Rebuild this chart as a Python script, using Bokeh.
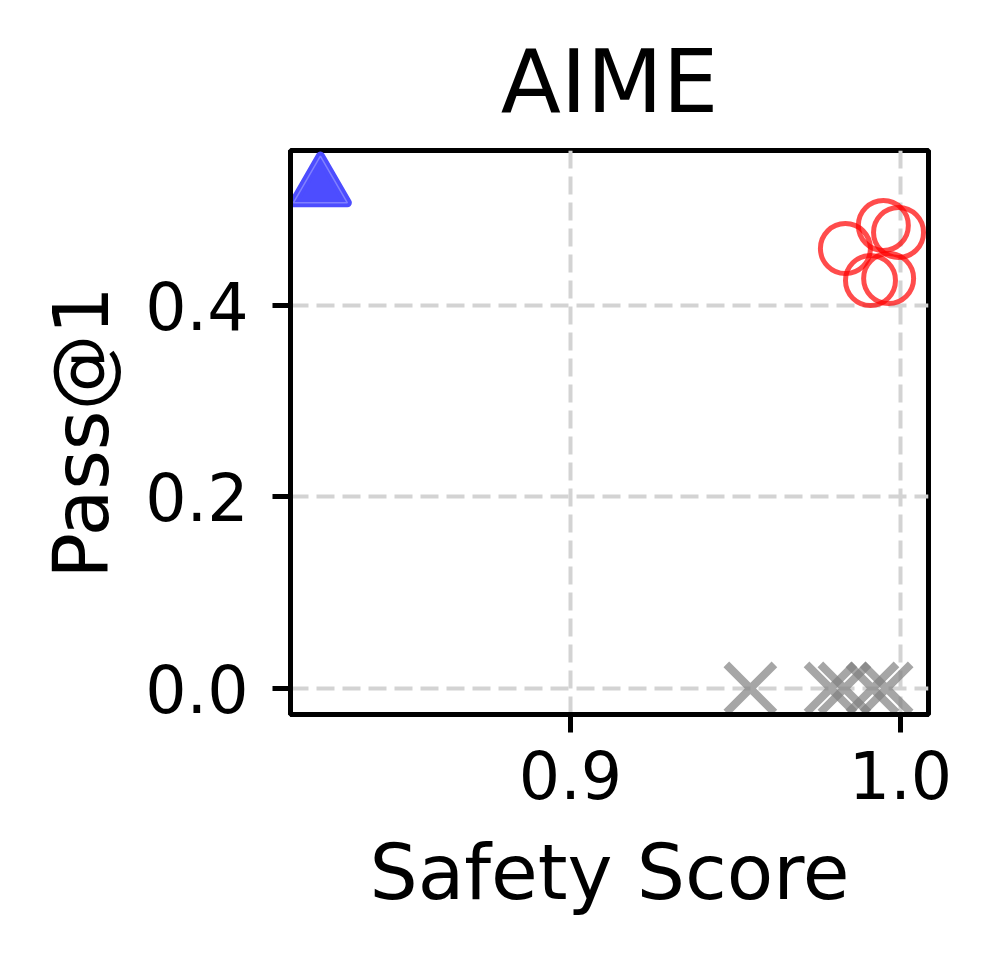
from bokeh.plotting import figure
from bokeh.models import Range1d, FixedTicker, ColumnDataSource
from bokeh.transform import dodge
from bokeh.embed import file_html
from bokeh.resources import INLINE

# Data
base_x = [0.8242]
base_y = [0.531]

method_x = [0.9833, 0.9948, 0.9994, 0.9909, 0.9964]
method_y = [0.4595, 0.4836, 0.4763, 0.4261, 0.4282]

other_x = [0.9545, 0.9788, 0.9830, 0.9915, 0.9958]
other_y = [0.0, 0.0, 0.0, 0.0, 0.0]

x_ticks = [0.9, 1.0]
y_ticks = [0.0, 0.2, 0.4]

title_text = "AIME"
x_label = "Safety Score"
y_label = "Pass@1"

FONT = "DejaVu Sans"

p = figure(width=975, height=945, output_backend="svg", toolbar_location=None,
           x_range=Range1d(0.81515, 1.00848), y_range=Range1d(-0.0272, 0.5619),
           min_border_left=290, min_border_right=47, min_border_top=150, min_border_bottom=231)

p.title.text = title_text
p.title.text_font = FONT
p.title.text_font_size = "88px"
p.title.text_font_style = "normal"
p.title.text_color = "black"
p.title.align = "center"
p.title.standoff = 36

p.outline_line_color = "black"
p.outline_line_width = 5
p.background_fill_color = "white"
p.border_fill_color = "white"

for ax, ticks in ((p.xaxis[0], x_ticks), (p.yaxis[0], y_ticks)):
    ax.ticker = FixedTicker(ticks=ticks)
    ax.major_label_overrides = {t: f"{t:.1f}" for t in ticks}
    ax.major_label_text_font = FONT
    ax.major_label_text_font_size = "65px"
    ax.major_label_text_color = "black"
    ax.axis_label_text_font = FONT
    ax.axis_label_text_font_size = "76px"
    ax.axis_label_text_font_style = "normal"
    ax.axis_label_text_color = "black"
    ax.axis_line_color = "black"
    ax.axis_line_width = 5
    ax.major_tick_line_width = 5
    ax.major_tick_line_color = "black"
    ax.major_tick_in = 0
    ax.major_tick_out = 18
    ax.minor_tick_line_color = None

p.xaxis.axis_label = x_label
p.yaxis.axis_label = y_label
p.xaxis.major_label_standoff = 17
p.yaxis.major_label_standoff = 24
p.xaxis.axis_label_standoff = 26
p.yaxis.axis_label_standoff = 16

p.grid.grid_line_color = "#d3d3d3"
p.grid.grid_line_width = 4
p.grid.grid_line_dash = "18 8"
p.xgrid.ticker = FixedTicker(ticks=x_ticks)
p.ygrid.ticker = FixedTicker(ticks=y_ticks)

src_o = ColumnDataSource(dict(x=other_x, y=other_y))
p.scatter("x", "y", source=src_o, marker="x", size=68, line_color="gray",
          line_alpha=0.7, line_width=8)

src_m = ColumnDataSource(dict(x=method_x, y=method_y))
p.scatter("x", "y", source=src_m, marker="circle", size=50, fill_color=None,
          line_color="red", line_alpha=0.7, line_width=5)

src_b = ColumnDataSource(dict(x=base_x, y=base_y))
p.scatter("x", dodge("y", -0.0075, range=p.y_range), source=src_b, marker="triangle",
          size=54, fill_color="#4d4dff", line_color="#4d4dff", line_width=9,
          line_join="round")
p.scatter("x", dodge("y", -0.0075, range=p.y_range), source=src_b, marker="triangle",
          size=54, fill_color=None, line_color="#8080ff", line_width=1.5)

open("out.html", "w").write(file_html(p, INLINE))
